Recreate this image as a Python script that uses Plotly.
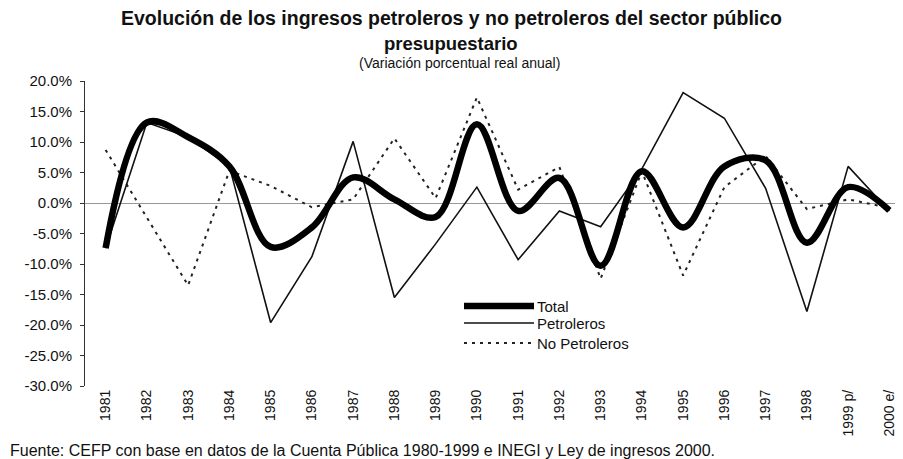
import plotly.graph_objects as go

years = ["1981", "1982", "1983", "1984", "1985", "1986", "1987", "1988", "1989", "1990",
         "1991", "1992", "1993", "1994", "1995", "1996", "1997", "1998", "1999 p/", "2000 e/"]

total = [-7.4, 13.2, 10.8, 6.0, -7.2, -4.0, 4.2, 0.6, -2.3, 12.9,
         -1.3, 4.1, -10.3, 5.2, -4.0, 6.0, 7.0, -6.5, 2.6, -1.2]

petroleros = [-7.4, 13.2, 10.8, 6.0, -19.6, -8.8, 10.1, -15.5, -6.7, 2.6,
              -9.3, -1.3, -3.9, 5.6, 18.1, 13.9, 2.4, -17.8, 6.0, -1.3]

no_petroleros = [8.7, -2.4, -13.5, 5.3, 2.8, -0.7, 0.6, 10.6, 0.8, 17.3,
                 2.2, 5.9, -12.4, 5.2, -11.9, 2.6, 7.7, -1.0, 0.6, -0.8]

y_ticks = [20, 15, 10, 5, 0, -5, -10, -15, -20, -25, -30]

FONT = "Liberation Sans, Arial, sans-serif"

# page body has an 8px margin: figure pixel = screen pixel - 8
OFF = 8
W, H = 903 - OFF, 459 - OFF
L, R = 85 - OFF, 0
T = 81 - OFF
B = H - (386 - OFF)
PW = W - L - R
PH = H - T - B
STEP = 41.25

fig = go.Figure()

fig.add_trace(go.Scatter(x=years, y=no_petroleros, mode="lines", name="No Petroleros",
                         line=dict(color="#222", width=2, dash="3px,5px")))
fig.add_trace(go.Scatter(x=years, y=petroleros, mode="lines", name="Petroleros",
                         line=dict(color="#111", width=1.6)))
fig.add_trace(go.Scatter(x=years, y=total, mode="lines", name="Total",
                         line=dict(color="#000", width=6.5, shape="spline", smoothing=1.0)))


def s2p(sx, sy):
    """screen pixel -> paper coords"""
    fx, fy = sx - OFF, sy - OFF
    return (fx - L) / PW, (H - B - fy) / PH


shapes = []
annotations = []
legend_items = [
    ("Total", 306, dict(color="#000", width=6.5)),
    ("Petroleros", 323, dict(color="#111", width=1.6)),
    ("No Petroleros", 343, dict(color="#222", width=2, dash="3px,5px")),
]
for name, py, ln in legend_items:
    x0, y0 = s2p(464, py)
    x1, _ = s2p(534, py)
    shapes.append(dict(type="line", xref="paper", yref="paper", x0=x0, x1=x1, y0=y0, y1=y0, line=ln))
    tx, ty = s2p(535, py)
    annotations.append(dict(text=name, xref="paper", yref="paper", x=tx, y=ty,
                            xanchor="left", yanchor="middle", showarrow=False,
                            font=dict(family=FONT, size=15, color="#111")))

def add_text(text, sx, sy, size, anchor="center"):
    x, y = s2p(sx, sy)
    annotations.append(dict(text=text, xref="paper", yref="paper", x=x, y=y,
                            xanchor=anchor, yanchor="middle", showarrow=False,
                            font=dict(family=FONT, size=size, color="#111")))

add_text("<b>Evolución de los ingresos petroleros y no petroleros del sector público</b>", 451, 18, 19.5)
add_text("<b>presupuestario</b>", 451, 43, 18.5)
add_text("(Variación porcentual real anual)", 459, 63, 14)
add_text("Fuente: CEFP con base en datos de la Cuenta Pública 1980-1999 e INEGI y Ley de ingresos 2000.",
         8, 450, 16, anchor="left")

fig.update_layout(
    width=W, height=H,
    margin=dict(l=L, r=R, t=T, b=B),
    paper_bgcolor="white", plot_bgcolor="white",
    showlegend=False,
    shapes=shapes,
    annotations=annotations,
    font=dict(family=FONT, color="#111"),
    xaxis=dict(type="category", range=[-0.5, -0.5 + PW / STEP],
               showgrid=False, showline=False, zeroline=False,
               tickangle=-90, ticks="", ticklen=0,
               tickfont=dict(family=FONT, size=14, color="#111")),
    yaxis=dict(range=[-30, 20], tickvals=y_ticks,
               ticktext=[f"{v:.1f}%" for v in y_ticks],
               showgrid=False, showline=True, linecolor="#333", linewidth=1,
               ticks="outside", ticklen=4, tickcolor="#333",
               ticklabelstandoff=5,
               zeroline=True, zerolinecolor="#999", zerolinewidth=1,
               tickfont=dict(family=FONT, size=15, color="#111")),
)

fig.write_html("out.html")
